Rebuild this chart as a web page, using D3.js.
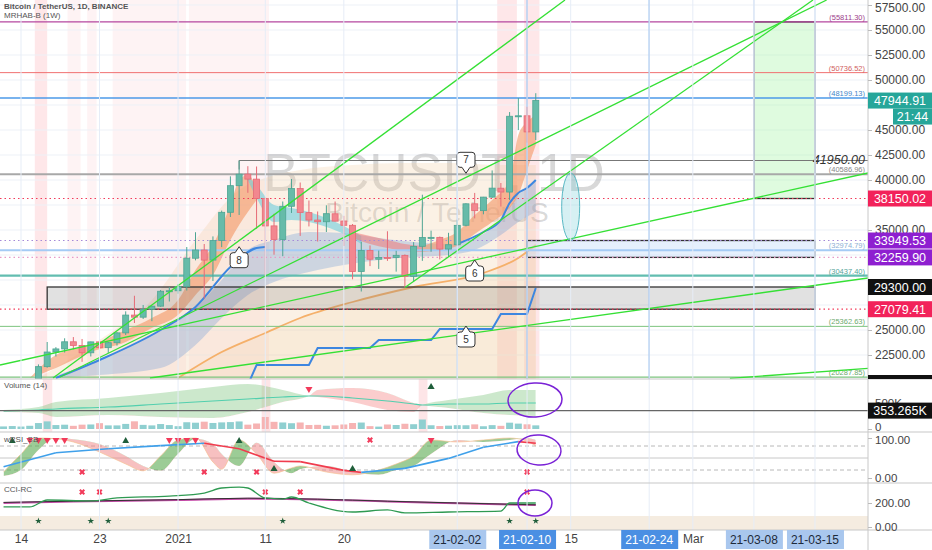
<!DOCTYPE html>
<html><head><meta charset="utf-8">
<script src="https://cdn.jsdelivr.net/npm/d3@7/dist/d3.min.js"></script>
<style>
html,body{margin:0;padding:0;background:#fff;}
svg{display:block;font-family:"Liberation Sans",Arial,sans-serif;}
</style></head><body>
<svg id="chart" width="932" height="550"></svg>
<script>
// ================= DATA =================
const candleDates = ["2020-12-12","2020-12-13","2020-12-14","2020-12-15","2020-12-16","2020-12-17","2020-12-18","2020-12-19","2020-12-20","2020-12-21","2020-12-22","2020-12-23","2020-12-24","2020-12-25","2020-12-26","2020-12-27","2020-12-28","2020-12-29","2020-12-30","2020-12-31",
"2021-01-01","2021-01-02","2021-01-03","2021-01-04","2021-01-05","2021-01-06","2021-01-07","2021-01-08","2021-01-09","2021-01-10","2021-01-11","2021-01-12","2021-01-13","2021-01-14","2021-01-15","2021-01-16","2021-01-17","2021-01-18","2021-01-19","2021-01-20","2021-01-21","2021-01-22","2021-01-23","2021-01-24","2021-01-25","2021-01-26","2021-01-27","2021-01-28","2021-01-29","2021-01-30","2021-01-31",
"2021-02-01","2021-02-02","2021-02-03","2021-02-04","2021-02-05","2021-02-06","2021-02-07","2021-02-08","2021-02-09","2021-02-10","2021-02-11"];
const opens = [18036.53,18808.69,19174.99,19273.69,19426.43,21335.52,22797.15,23107.39,23821.60,23455.54,22719.88,23810.79,23232.39,23728.99,24712.47,26493.40,26281.54,27079.42,27385.00,28875.55,
28923.63,29331.70,32176.45,33000.05,31989.75,33949.53,36769.36,39432.48,40586.96,40088.22,38150.02,35410.37,34049.15,37371.38,39145.21,36737.43,35994.98,35824.99,36622.46,35901.94,35468.22,30851.99,32950.00,32078.00,32259.45,32254.19,32464.01,30366.15,33368.18,34246.28,34262.89,
33092.97,33517.09,35472.71,37620.26,36936.65,38289.32,39181.01,38795.69,46374.86,46420.42,44807.58];
const highs = [18948.66,19411.00,19349.00,19570.00,21560.00,23800.00,23285.18,24171.47,24295.00,24102.77,23837.10,24100.00,23794.43,24789.86,26867.03,28422.00,27500.00,27410.00,28996.00,29300.00,
29600.00,33300.00,34778.11,33600.00,34360.00,36939.21,40365.00,41950.00,41380.00,41350.00,38264.74,36628.00,37850.00,40100.00,39747.76,37950.00,36852.50,37469.83,37850.00,36415.31,35600.00,33826.53,33456.00,32944.00,34875.00,32921.88,32557.29,33783.98,38531.90,34933.00,34342.69,
34717.27,35984.33,37662.63,38708.27,38310.12,40955.51,39700.00,46794.45,48200.00,47310.00,48678.90];
const lows = [18020.70,18711.12,19000.00,19050.00,19278.60,21230.00,22350.00,22750.00,23060.00,21815.00,22353.40,22600.00,22703.42,23433.60,24500.00,25700.00,26101.00,25880.00,27320.00,27850.00,
28624.57,28946.53,31962.99,28130.00,29900.00,33288.00,36300.00,36500.00,38720.00,35111.11,30420.00,32531.00,32380.00,36701.23,34408.00,35357.80,33850.00,34800.00,35844.06,33400.00,30071.00,28850.00,31390.16,31106.00,31910.00,30837.37,29241.72,29842.10,31915.40,32825.00,32057.75,
32296.16,33418.00,35362.38,36161.95,36570.00,38215.94,37351.00,37988.89,45000.00,43727.00,43994.02];
const closes = [18808.69,19174.99,19273.14,19426.43,21335.52,22797.16,23107.39,23821.61,23455.52,22719.71,23810.79,23232.76,23729.20,24712.47,26493.39,26281.66,27079.41,27385.00,28875.54,28923.63,
29331.69,32178.33,33000.05,31988.71,33949.53,36769.36,39432.28,40582.81,40088.22,38150.02,35404.47,34051.24,37371.38,39144.50,36742.22,35994.98,35828.61,36631.27,35891.49,35468.23,30850.13,32945.17,32078.00,32259.90,32254.20,32467.77,30366.15,33364.86,34252.20,34262.88,33092.98,
33526.37,35466.24,37618.87,36936.66,38290.24,39186.94,38795.69,46374.87,46420.42,44807.58,47944.91];
const volumes = [49519,56560,47257,61792,114306,146538,75806,82549,61212,83359,87219,112335,69451,69216,97806,147830,79272,69411,95356,75508,
54134,129993,120957,140899,116049,127139,132825,145280,83378,105906,231133,138300,125600,111120,125126,76430,80108,62650,70689,86698,114876,124210,54696,45985,86758,76711,101007,92082,182437,72053,57003,
64817,73473,71801,89036,52950,74155,61234,121568,103653,90033,70000];

const priceTicks = [22500,25000,27500,30000,32500,35000,37500,40000,42500,45000,47500,50000,52500,55000,57500];
const tickDates = ["2020-12-14","2020-12-23","2021-01-01","2021-01-11","2021-01-20","2021-02-15","2021-03-01"];
const tickLabels = ["14","23","2021","11","20","15","Mar"];
const markDates = ["2021-02-02","2021-02-10","2021-02-24","2021-03-08","2021-03-15"];
const markLabels = ["21-02-02","21-02-10","21-02-24","21-03-08","21-03-15"];

// horizontal price levels
const solidLevels = [55811.30,50736.52,48199.13,40586.96,32974.79,30437.40,25362.63,20287.85];
const dottedLevels = [38150.02,33949.53,32259.90,27079.41];
const ray41950 = {date:"2021-01-08", price:41950.00};
const lastPrice = 47944.91, lastTimer = "21:44";
const axisTagPrices = [38150.02,33949.53,32259.90,29300.00,27079.41];

// rectangles
const boxStart = ["2020-12-17","2021-02-10","2021-03-08"];
const boxEnd   = ["2021-03-15","2021-03-15","2021-03-15"];
const boxTop   = [29300.00,33949.53,55811.30];
const boxBot   = [27079.41,32259.90,38150.02];
// ellipse
const ellipseDate = "2021-02-15", ellipseTop = 40700, ellipseBot = 33950;

// trend lines
const trendStartDates = ["2020-12-17T16:00Z","2020-12-18T11:16Z","2021-01-27T00:00Z","2020-12-28T18:45Z","2020-12-11T14:14Z","2021-03-05T06:00Z"];
const trendStartPrices = [20200,20300,29241.72,20200,21500,20170];
const trendEndDates = ["2021-02-14T08:24Z","2021-03-16T08:10Z","2021-03-14T18:30Z","2021-03-21T02:00Z","2021-03-21T02:00Z","2021-03-21T07:00Z"];
const trendEndPrices = [58000,58000,58000,30200,40700,21170];

// callouts
const calloutDates = ["2021-01-08","2021-02-03","2021-02-04","2021-02-03"];
const calloutPrices = [33330,40670,32000,25400];
const calloutLabels = ["8","7","6","5"];

// MRHAB bands (date, upper, lower)
const bull1Dates = ["2020-12-15","2020-12-18","2020-12-22","2020-12-26","2020-12-29","2021-01-01","2021-01-03","2021-01-05","2021-01-07","2021-01-08","2021-01-09","2021-01-10"];
const bull1Up = [20200,22500,23500,25000,26200,28000,31000,33500,37500,40000,40500,39200];
const bull1Lo = [20200,21200,22800,23800,25200,26500,28500,30500,34000,35500,36800,38000];
const bearDates = ["2021-01-09","2021-01-10","2021-01-12","2021-01-14","2021-01-16","2021-01-18","2021-01-20","2021-01-22"];
const bearUp = [40400,39500,37500,37200,36800,36200,35400,34400];
const bearLo = [40000,38200,35800,36000,35800,35300,34600,33600];
const redDates = ["2021-01-21","2021-01-23","2021-01-25","2021-01-27","2021-01-29"];
const redUp = [34800,34400,34000,33600,33400];
const redLo = [34200,33600,33200,32900,32800];
const bull2Dates = ["2021-01-29","2021-01-31","2021-02-02","2021-02-04","2021-02-06","2021-02-08","2021-02-09","2021-02-10","2021-02-11"];
const bull2Up = [33400,34000,34800,36500,38000,40000,44500,45800,46500];
const bull2Lo = [32800,33000,33400,34600,35800,37200,38500,41000,43500];
// big beige cloud (top edge)
const cloudDates = ["2020-12-16","2020-12-23","2020-12-29","2021-01-03","2021-01-08","2021-01-11","2021-01-15","2021-01-21","2021-01-27","2021-02-01","2021-02-07","2021-02-11"];
const cloudTop = [20200,24000,28000,34000,39000,40200,41000,41500,41700,41700,41500,41500];
// blue-grey band
const blueBandDates = ["2020-12-17","2020-12-23","2020-12-30","2021-01-03","2021-01-06","2021-01-09","2021-01-12","2021-01-16","2021-01-20","2021-01-24","2021-01-28","2021-02-01","2021-02-04","2021-02-07","2021-02-09","2021-02-11"];
const blueBandUp = [20200,22000,25000,27200,30000,33000,34000,34800,34700,34200,33800,33600,34200,36000,38500,40000];
const blueBandLo = [20200,20500,21200,23500,26200,28500,29800,30800,31500,32000,32300,32500,33000,34500,35800,36800];
// blue MA line (two visible parts)
const blue1Dates = ["2020-12-18","2020-12-23","2020-12-30","2021-01-03","2021-01-07","2021-01-10","2021-01-11"];
const blue1Vals = [20200,22000,25000,27300,31300,33200,33300];
const blue2Dates = ["2021-02-02","2021-02-05","2021-02-07","2021-02-08","2021-02-09","2021-02-10","2021-02-11"];
const blue2Vals = [33600,34800,36000,37700,38700,39200,40000];
// orange MA line
const orangeDates = ["2021-01-01","2021-01-06","2021-01-11","2021-01-15","2021-01-21","2021-01-28","2021-02-05","2021-02-09","2021-02-11"];
const orangeVals = [20200,22800,24700,26200,27800,29300,30700,32200,33500];
// weekly step line
const stepDates = ["2021-01-09","2021-01-10","2021-01-16","2021-01-17","2021-01-23","2021-01-24","2021-01-30","2021-01-31","2021-02-06","2021-02-07","2021-02-10","2021-02-11"];
const stepVals = [19500,21500,21500,23200,23200,24000,24000,25100,25100,26600,26600,29200];
// background highlight columns
const pinkStarts = ["2020-12-15T14:00Z","2020-12-19T08:00Z","2020-12-21T14:00Z","2020-12-24T12:00Z","2021-01-02T06:00Z","2021-02-06T14:00Z","2021-02-09T16:00Z"];
const pinkEnds   = ["2020-12-17T00:00Z","2020-12-20T20:00Z","2020-12-22T16:00Z","2021-01-01T22:00Z","2021-01-11T10:00Z","2021-02-08T20:00Z","2021-02-11T10:00Z"];
const volPinkStarts = ["2020-12-16T12:00Z","2021-01-10T14:00Z","2021-01-28T14:00Z"];
const volPinkEnds   = ["2020-12-17T14:00Z","2021-01-11T14:00Z","2021-01-29T14:00Z"];

// Volume oscillator cloud (lines A and B) and mid line
const voscDates = ["2020-12-12","2020-12-16","2020-12-18","2020-12-24","2020-12-30","2021-01-05","2021-01-09","2021-01-13","2021-01-16","2021-01-17","2021-01-21","2021-01-25","2021-01-28","2021-01-29","2021-02-01","2021-02-05","2021-02-08","2021-02-11"];
const voscA = [40,46,56,64,74,86,92,80,68,66,56,40,36,50,60,70,80,80];
const voscB = [36,34,26,30,26,24,36,56,68,80,84,74,54,50,44,34,30,28];
const voscMid = [38,40,42,46,52,58,62,66,68,68,64,58,52,50,52,52,54,54];
const volLast = 353265;

// wRSI
const rsiDates = ["2020-12-12","2020-12-18","2020-12-24","2020-12-30","2021-01-04","2021-01-08","2021-01-12","2021-01-15","2021-01-20","2021-01-22","2021-01-27","2021-02-01","2021-02-05","2021-02-09","2021-02-11"];
const rsiSlow = [28,63,73,81,87,73,42,41,19,14,24,49,77,91,87];
const ribDates = ["2020-12-12","2020-12-14","2020-12-16","2020-12-18","2020-12-20","2020-12-23","2020-12-26","2020-12-28","2020-12-30","2021-01-01","2021-01-03","2021-01-05","2021-01-06","2021-01-08","2021-01-10","2021-01-12","2021-01-14","2021-01-15","2021-01-18","2021-01-21","2021-01-24","2021-01-26","2021-01-28","2021-01-30","2021-02-02","2021-02-05","2021-02-08","2021-02-10","2021-02-11"];
const ribA = [15,60,100,98,90,65,35,18,55,95,100,40,22,95,60,12,25,30,15,8,20,35,55,95,90,95,100,92,80];
const ribB = [5,20,70,100,97,85,55,30,18,60,98,85,60,30,88,40,12,22,30,15,8,20,30,60,95,90,95,100,95];
const rsiTopTriDates = ["2020-12-15","2020-12-16","2020-12-17","2020-12-18","2020-12-19","2020-12-31","2021-01-01","2021-01-02","2021-01-03","2021-01-30"];
const rsiTopStarDates = ["2020-12-13","2020-12-26","2021-01-08"];
const rsiTopDotDates = ["2021-01-23"];
const rsiBotDotDates = ["2020-12-21","2021-01-04","2021-01-10","2021-02-10"];
const rsiBotTriDates = ["2021-01-12","2021-01-21"];

// CCI
const cciDates = ["2020-12-12","2020-12-15","2020-12-17","2020-12-22","2020-12-25","2020-12-31","2021-01-04","2021-01-06","2021-01-08","2021-01-09","2021-01-11","2021-01-13","2021-01-14","2021-01-16","2021-01-21","2021-01-25","2021-01-27","2021-02-01","2021-02-07","2021-02-08","2021-02-11"];
const cciFast = [167,167,225,217,242,258,283,325,333,325,242,233,250,200,125,142,117,125,133,200,200];
const cciSlowDates = ["2020-12-12","2020-12-20","2021-01-01","2021-01-09","2021-01-17","2021-01-25","2021-02-02","2021-02-11"];
const cciSlow = [205,215,228,240,232,215,200,185];
const cciSig = [200,212,225,236,230,212,198,183];
const cciTopDotDates = ["2020-12-21","2020-12-23","2021-01-11","2021-01-15","2021-02-10"];
const cciBotStarDates = ["2020-12-16","2020-12-22","2020-12-24","2021-01-13","2021-02-08","2021-02-11"];

// volume markers
const volDownTriDates = ["2021-01-16"];
const volUpTriDates = ["2021-01-30"];

// ================= CHART =================
const P = s => new Date(s.length > 10 ? s : s + "T00:00:00Z");
const PR = 868;               // right edge of plot area
const MS = 864e5, T0 = Date.UTC(2020,11,14), PXD = 8.725;
const x = d3.scaleUtc().domain([new Date(T0 - 21/PXD*MS), new Date(T0 + (PR-21)/PXD*MS)]).range([0, PR]);
const y = d3.scaleLinear().domain([20200, 58000]).range([378, 0]);
const yVol = d3.scaleLinear().domain([0, 500000]).range([429, 403]);
const yOsc = d3.scaleLinear().domain([0, 100]).range([430, 380]);
const yR = d3.scaleLinear().domain([0, 100]).range([478, 438]);
const yC = d3.scaleLinear().domain([0, 200]).range([527, 503]);

const svg = d3.select("#chart");
const defs = svg.append("defs");
function clip(id, x0, y0, w, h){ defs.append("clipPath").attr("id", id).append("rect").attr("x",x0).attr("y",y0).attr("width",w).attr("height",h); }
clip("cMain",0,0,PR,379); clip("cVol",0,379,PR,53); clip("cRsi",0,433,PR,50); clip("cCci",0,484,PR,46);

const main = svg.append("g").attr("clip-path","url(#cMain)");
const vol = svg.append("g").attr("clip-path","url(#cVol)");
const rsi = svg.append("g").attr("clip-path","url(#cRsi)");
const cci = svg.append("g").attr("clip-path","url(#cCci)");

// pink highlight columns
pinkStarts.forEach((s,i)=>{
  main.append("rect").attr("x",x(P(s))).attr("y",0).attr("width",x(P(pinkEnds[i]))-x(P(s))).attr("height",379)
   .attr("fill", i===0||i>=5 ? "rgba(250,170,175,0.28)" : "rgba(250,190,195,0.18)");
});
volPinkStarts.forEach((s,i)=>{
  vol.append("rect").attr("x",x(P(s))).attr("y",379).attr("width",x(P(volPinkEnds[i]))-x(P(s))).attr("height",53).attr("fill","rgba(250,170,175,0.3)");
});

// grid
const gridCol = "#edf1f7";
priceTicks.forEach(p=> main.append("line").attr("x1",0).attr("x2",PR).attr("y1",y(p)).attr("y2",y(p)).attr("stroke",gridCol));
tickDates.concat(markDates).forEach(d=>{
  svg.append("line").attr("x1",x(P(d))).attr("x2",x(P(d))).attr("y1",0).attr("y2",530).attr("stroke","#e6edf7");
});

// watermark
main.append("text").attr("x",434).attr("y",191).attr("text-anchor","middle").attr("font-size",53).attr("fill","rgba(90,90,90,0.24)").text("BTCUSDT, 1D");
main.append("text").attr("x",437).attr("y",222).attr("text-anchor","middle").attr("font-size",28).attr("fill","rgba(90,90,90,0.24)").text("Bitcoin / TetherUS");

// beige cloud
main.append("path").datum(cloudDates.map((d,i)=>[P(d),cloudTop[i]]))
  .attr("d", d3.area().x(d=>x(d[0])).y0(379).y1(d=>y(d[1])).curve(d3.curveMonotoneX))
  .attr("fill","rgba(240,205,160,0.28)");
main.append("path").datum(orangeDates.map((d,i)=>[P(d),orangeVals[i]]))
  .attr("d", d3.area().x(d=>x(d[0])).y0(379).y1(d=>y(d[1])).curve(d3.curveMonotoneX))
  .attr("fill","rgba(240,200,150,0.15)");
// blue band
main.append("path").datum(blueBandDates.map((d,i)=>[P(d),blueBandUp[i],blueBandLo[i]]))
  .attr("d", d3.area().x(d=>x(d[0])).y0(d=>y(d[2])).y1(d=>y(d[1])).curve(d3.curveMonotoneX))
  .attr("fill","rgba(120,160,215,0.35)");
// ribbons
function band(dates, up, lo, col){
  main.append("path").datum(dates.map((d,i)=>[P(d),up[i],lo[i]]))
   .attr("d", d3.area().x(d=>x(d[0])).y0(d=>y(d[2])).y1(d=>y(d[1])).curve(d3.curveMonotoneX)).attr("fill",col);
}
band(bull1Dates,bull1Up,bull1Lo,"rgba(243,150,100,0.6)");
band(bearDates,bearUp,bearLo,"rgba(110,205,220,0.6)");
band(redDates,redUp,redLo,"rgba(240,120,120,0.55)");
band(bull2Dates,bull2Up,bull2Lo,"rgba(243,150,100,0.6)");

// orange line
main.append("path").datum(orangeDates.map((d,i)=>[P(d),orangeVals[i]]))
  .attr("d", d3.line().x(d=>x(d[0])).y(d=>y(d[1])).curve(d3.curveMonotoneX))
  .attr("fill","none").attr("stroke","#f5b06a").attr("stroke-width",1.8);

// boxes
const boxFill = ["rgba(120,120,120,0.22)","rgba(200,222,250,0.45)","rgba(170,245,170,0.38)"];
boxStart.forEach((s,i)=>{
  main.append("rect").attr("x",x(P(s))).attr("y",y(boxTop[i])).attr("width",x(P(boxEnd[i]))-x(P(s))).attr("height",y(boxBot[i])-y(boxTop[i]))
   .attr("fill",boxFill[i]).attr("stroke","#333").attr("stroke-width",1.3);
});

// horizontal levels
const solidCol = ["#b5479f","#f07070","#4d9ae8","#a8a8a8","#a4cbf5","#62bdb0","#7cc47f","#7cc47f"];
const solidW = [1.3,1,1.3,2,2.2,2.2,1,1.2];
solidLevels.forEach((p,i)=>{
  main.append("line").attr("x1",0).attr("x2",PR).attr("y1",y(p)).attr("y2",y(p)).attr("stroke",solidCol[i]).attr("stroke-width",solidW[i]);
  main.append("text").attr("x",PR-3).attr("y",y(p)-2).attr("text-anchor","end").attr("font-size",7.5).attr("fill",solidCol[i]==="#a8a8a8"?"#888":d3.color(solidCol[i]).darker(0.4)).text("("+p.toFixed(2)+")");
});
const dotCol = ["#f23a5a","#a58ad8","#e79ac8","#f23a5a"];
dottedLevels.forEach((p,i)=>{
  main.append("line").attr("x1",0).attr("x2",PR).attr("y1",y(p)).attr("y2",y(p)).attr("stroke",dotCol[i]).attr("stroke-width",1.2).attr("stroke-dasharray","1.5,3");
});
// 41950 ray
main.append("line").attr("x1",x(P(ray41950.date))).attr("x2",PR).attr("y1",y(ray41950.price)).attr("y2",y(ray41950.price)).attr("stroke","#777").attr("stroke-width",1);
main.append("line").attr("x1",x(P(ray41950.date))).attr("x2",x(P(ray41950.date))).attr("y1",y(ray41950.price)).attr("y2",y(ray41950.price)+9).attr("stroke","#777").attr("stroke-width",1);
main.append("text").attr("x",PR-3).attr("y",y(ray41950.price)+3).attr("text-anchor","end").attr("font-size",12.5).attr("font-style","italic").attr("fill","#333").text(ray41950.price.toFixed(2));

// vertical drawing lines
[["2021-02-02","#a9c8f0"],["2021-02-10","#6ea6ea"],["2021-02-24","#6ea6ea"],["2021-03-08","#c5d8f2"],["2021-03-15","#c5d8f2"]].forEach(v=>{
  main.append("line").attr("x1",x(P(v[0]))).attr("x2",x(P(v[0]))).attr("y1",0).attr("y2",379).attr("stroke",v[1]).attr("stroke-width",1.2);
});

// blue step line
main.append("path").datum(stepDates.map((d,i)=>[P(d),stepVals[i]]))
  .attr("d", d3.line().x(d=>x(d[0])).y(d=>y(d[1]))).attr("fill","none").attr("stroke","#3d86e0").attr("stroke-width",2);
[[blue1Dates,blue1Vals],[blue2Dates,blue2Vals]].forEach(b=>{
  main.append("path").datum(b[0].map((d,i)=>[P(d),b[1][i]]))
   .attr("d", d3.line().x(d=>x(d[0])).y(d=>y(d[1])).curve(d3.curveMonotoneX)).attr("fill","none").attr("stroke","#3d86e0").attr("stroke-width",2);
});

// candles
const cw = 6;
candleDates.forEach((d,i)=>{
  const up = closes[i] >= opens[i];
  const fill = up ? "#66bba9" : "#f2878f", edge = up ? "#4ea593" : "#e66a76";
  const cx = x(P(d));
  main.append("line").attr("x1",cx).attr("x2",cx).attr("y1",y(highs[i])).attr("y2",y(lows[i])).attr("stroke",edge).attr("stroke-width",1);
  const top = y(Math.max(opens[i],closes[i])), bot = y(Math.min(opens[i],closes[i]));
  main.append("rect").attr("x",cx-cw/2).attr("y",top).attr("width",cw).attr("height",Math.max(1,bot-top)).attr("fill",fill).attr("stroke",edge).attr("stroke-width",0.8);
});

// trend lines
trendStartDates.forEach((s,i)=>{
  main.append("line").attr("x1",x(new Date(s))).attr("y1",y(trendStartPrices[i])).attr("x2",x(new Date(trendEndDates[i]))).attr("y2",y(trendEndPrices[i]))
   .attr("stroke","#35e035").attr("stroke-width",1.3);
});

// ellipse
main.append("ellipse").attr("cx",x(P(ellipseDate))).attr("cy",(y(ellipseTop)+y(ellipseBot))/2).attr("rx",9).attr("ry",(y(ellipseBot)-y(ellipseTop))/2)
  .attr("fill","rgba(120,205,215,0.3)").attr("stroke","#58b8c4").attr("stroke-width",1);

// callouts
function callout(tx, ty, dir, label){
  const w=18,h=15,r=3,pw=4,ph=6;
  const x0=tx-w/2, y0 = dir==="up" ? ty+ph : ty-ph-h;
  const p = d3.path();
  p.moveTo(x0+r,y0);
  if(dir==="up"){ p.lineTo(tx-pw,y0); p.lineTo(tx,ty); p.lineTo(tx+pw,y0); }
  p.lineTo(x0+w-r,y0); p.arcTo(x0+w,y0,x0+w,y0+r,r); p.lineTo(x0+w,y0+h-r); p.arcTo(x0+w,y0+h,x0+w-r,y0+h,r);
  if(dir==="down"){ p.lineTo(tx+pw,y0+h); p.lineTo(tx,ty); p.lineTo(tx-pw,y0+h); }
  p.lineTo(x0+r,y0+h); p.arcTo(x0,y0+h,x0,y0+h-r,r); p.lineTo(x0,y0+r); p.arcTo(x0,y0,x0+r,y0,r); p.closePath();
  main.append("path").attr("d",p.toString()).attr("fill","#fff").attr("stroke","#333").attr("stroke-width",1);
  main.append("text").attr("x",tx).attr("y",y0+h/2+3.5).attr("text-anchor","middle").attr("font-size",10).attr("fill","#333").text(label);
}
const calloutDir = ["up","down","up","up"];
calloutDates.forEach((d,i)=> callout(x(P(d)), y(calloutPrices[i]), calloutDir[i], calloutLabels[i]));

// header
svg.append("text").attr("x",4).attr("y",9).attr("font-size",8).attr("font-weight","bold").attr("fill","#555").text("Bitcoin / TetherUS, 1D, BINANCE");
svg.append("text").attr("x",4).attr("y",18).attr("font-size",8).attr("fill","#555").text("MRHAB-B (1W)");

// ================= VOLUME PANE =================
function diffFill(g, dates, A, B, ys, top, bot, cUp, cDn, id){
  const pts = dates.map((d,i)=>[x(P(d)), ys(A[i]), ys(B[i])]);
  defs.append("clipPath").attr("id",id+"a").append("path").attr("d", d3.area().x(d=>d[0]).y0(top).y1(d=>d[2]).curve(d3.curveMonotoneX)(pts));
  defs.append("clipPath").attr("id",id+"b").append("path").attr("d", d3.area().x(d=>d[0]).y0(bot).y1(d=>d[2]).curve(d3.curveMonotoneX)(pts));
  const ar = d3.area().x(d=>d[0]).y0(d=>d[2]).y1(d=>d[1]).curve(d3.curveMonotoneX)(pts);
  g.append("g").attr("clip-path",`url(#${id}a)`).append("path").attr("d",ar).attr("fill",cUp);
  g.append("g").attr("clip-path",`url(#${id}b)`).append("path").attr("d",ar).attr("fill",cDn);
}
diffFill(vol, voscDates, voscA, voscB, yOsc, 379, 432, "rgba(120,195,120,0.38)", "rgba(245,130,130,0.4)", "vo");
vol.append("path").datum(voscDates.map((d,i)=>[P(d),voscMid[i]]))
  .attr("d", d3.line().x(d=>x(d[0])).y(d=>yOsc(d[1])).curve(d3.curveMonotoneX)).attr("fill","none").attr("stroke","#52cfae").attr("stroke-width",1.2);
svg.append("line").attr("x1",0).attr("x2",PR).attr("y1",yVol(volLast)).attr("y2",yVol(volLast)).attr("stroke","#666").attr("stroke-width",1.2);
candleDates.forEach((d,i)=>{
  const up = closes[i] >= opens[i];
  vol.append("rect").attr("x",x(P(d))-3.5).attr("y",yVol(volumes[i])).attr("width",7).attr("height",yVol(0)-yVol(volumes[i]))
    .attr("fill", up ? "#8fcfd0" : "#f6b3b3");
});
const sym = (type,size)=>d3.symbol().type(type).size(size)();
volDownTriDates.forEach(d=> vol.append("path").attr("d",sym(d3.symbolTriangle,22)).attr("transform",`translate(${x(P(d))},389) rotate(180)`).attr("fill","#f23a5a"));
volUpTriDates.forEach(d=> vol.append("path").attr("d",sym(d3.symbolTriangle,22)).attr("transform",`translate(${x(P(d))},387)`).attr("fill","#1f5e3a"));
svg.append("text").attr("x",4).attr("y",388).attr("font-size",8).attr("fill","#555").text("Volume (14)");

// ================= wRSI PANE =================
[[80,"4,3"],[20,"4,3"]].forEach(l=> rsi.append("line").attr("x1",0).attr("x2",PR).attr("y1",yR(l[0])).attr("y2",yR(l[0])).attr("stroke","#b8b8b8").attr("stroke-dasharray",l[1]));
rsi.append("line").attr("x1",0).attr("x2",PR).attr("y1",yR(50)).attr("y2",yR(50)).attr("stroke","#c8c8c8");
diffFill(rsi, ribDates, ribA, ribB, yR, 433, 483, "rgba(90,170,80,0.6)", "rgba(240,130,130,0.5)", "rr");
rsi.append("path").datum(ribDates.map((d,i)=>[P(d),ribA[i]]))
  .attr("d", d3.line().x(d=>x(d[0])).y(d=>yR(d[1])).curve(d3.curveMonotoneX)).attr("fill","none").attr("stroke","rgba(245,190,140,0.8)").attr("stroke-width",0.8);
for(let i=0;i<rsiDates.length-1;i++){
  rsi.append("line").attr("x1",x(P(rsiDates[i]))).attr("y1",yR(rsiSlow[i])).attr("x2",x(P(rsiDates[i+1]))).attr("y2",yR(rsiSlow[i+1]))
   .attr("stroke", rsiSlow[i+1] >= rsiSlow[i] ? "#3fa0ea" : "#f03c4e").attr("stroke-width",1.6);
}
rsiTopTriDates.forEach(d=> rsi.append("path").attr("d",sym(d3.symbolTriangle,20)).attr("transform",`translate(${x(P(d))},440) rotate(180)`).attr("fill","#f23a5a"));
rsiTopStarDates.forEach(d=> rsi.append("path").attr("d",sym(d3.symbolTriangle,20)).attr("transform",`translate(${x(P(d))},441)`).attr("fill","#1f5e3a"));
rsiTopDotDates.forEach(d=> rsi.append("path").attr("d",sym(d3.symbolCross,22)).attr("transform",`translate(${x(P(d))},440) rotate(45)`).attr("fill","#f23a5a"));
rsiBotDotDates.forEach(d=> rsi.append("path").attr("d",sym(d3.symbolCross,22)).attr("transform",`translate(${x(P(d))},472) rotate(45)`).attr("fill","#f23a5a"));
rsiBotTriDates.forEach(d=> rsi.append("path").attr("d",sym(d3.symbolTriangle,22)).attr("transform",`translate(${x(P(d))},469)`).attr("fill","#1f5e3a"));
svg.append("text").attr("x",4).attr("y",442).attr("font-size",8).attr("fill","#555").text("wRSI_SB");

// ================= CCI PANE =================
cci.append("rect").attr("x",0).attr("y",516).attr("width",PR).attr("height",14).attr("fill","rgba(225,200,165,0.35)");
cci.append("path").datum(cciSlowDates.map((d,i)=>[P(d),cciSig[i]]))
  .attr("d", d3.line().x(d=>x(d[0])).y(d=>yC(d[1])).curve(d3.curveMonotoneX)).attr("fill","none").attr("stroke","#c54aa8").attr("stroke-width",2);
cci.append("path").datum(cciSlowDates.map((d,i)=>[P(d),cciSlow[i]]))
  .attr("d", d3.line().x(d=>x(d[0])).y(d=>yC(d[1])).curve(d3.curveMonotoneX)).attr("fill","none").attr("stroke","#333").attr("stroke-width",1);
cci.append("path").datum(cciDates.map((d,i)=>[P(d),cciFast[i]]))
  .attr("d", d3.line().x(d=>x(d[0])).y(d=>yC(d[1])).curve(d3.curveMonotoneX)).attr("fill","none").attr("stroke","#2f9a52").attr("stroke-width",1.3);
cciTopDotDates.forEach(d=> cci.append("path").attr("d",sym(d3.symbolCross,22)).attr("transform",`translate(${x(P(d))},492) rotate(45)`).attr("fill","#f23a5a"));
cciBotStarDates.forEach(d=> cci.append("path").attr("d",sym(d3.symbolStar,14)).attr("transform",`translate(${x(P(d))},521)`).attr("fill","#1f5e3a"));
svg.append("text").attr("x",4).attr("y",492).attr("font-size",8).attr("fill","#555").text("CCI-RC");

// purple freehand circles
[[535,400,27,17,-3],[539,450,22,15,4],[535,503,17,13,0]].forEach(c=>{
  svg.append("ellipse").attr("cx",c[0]).attr("cy",c[1]).attr("rx",c[2]).attr("ry",c[3]).attr("transform",`rotate(${c[4]},${c[0]},${c[1]})`)
   .attr("fill","none").attr("stroke","#7a22d6").attr("stroke-width",1.5);
});

// pane separators
[379,432,483,530].forEach(v=> svg.append("line").attr("x1",0).attr("x2",932).attr("y1",v).attr("y2",v).attr("stroke","#c8c8c8").attr("stroke-width",1.2));
svg.append("line").attr("x1",PR).attr("x2",PR).attr("y1",0).attr("y2",550).attr("stroke","#c8c8c8");

// ================= AXES =================
const tagYs = axisTagPrices.map(y).concat([y(lastPrice), y(lastPrice)+16]);
const visibleTicks = priceTicks.filter(p => tagYs.every(t => Math.abs(t - y(p)) >= 9));
const ax = svg.append("g").attr("transform",`translate(${PR},0)`)
  .call(d3.axisRight(y).tickValues(visibleTicks).tickFormat(d3.format(".2f")).tickSize(4));
ax.select(".domain").remove();
ax.selectAll("line").attr("stroke","#bbb");
ax.selectAll("text").attr("font-size",12).attr("fill","#444").attr("font-family","Liberation Sans, Arial")
  .attr("dy", d => y(d) < 7 ? "0.55em" : "0.32em");
function paneAxis(scale, vals, fmt, dys){
  const a = svg.append("g").attr("transform",`translate(${PR},0)`).call(d3.axisRight(scale).tickValues(vals).tickFormat(fmt).tickSize(4));
  a.select(".domain").remove(); a.selectAll("line").attr("stroke","#bbb");
  a.selectAll("text").attr("font-size",11.5).attr("fill","#444").attr("font-family","Liberation Sans, Arial")
   .attr("dy",(d,i)=>dys[i]);
}
paneAxis(yVol,[0,500000],v=> v===0 ? "0" : (v/1000)+"K",["0.1em","0.32em"]);
paneAxis(yR,[0,100],d3.format(".2f"),["0.32em","0.5em"]);
paneAxis(yC,[0,200],d3.format(".2f"),["0.32em","0.32em"]);

function tag(yy, text, bg, fg, x0=PR, w=64){
  svg.append("rect").attr("x",x0).attr("y",yy-8).attr("width",w).attr("height",16).attr("fill",bg);
  svg.append("text").attr("x",x0+w/2).attr("y",yy+4.5).attr("text-anchor","middle").attr("font-size",12.5).attr("fill",fg).text(text);
}
const tagBg = ["#f2225a","#8e1fd0","#8e1fd0","#111","#f2225a"];
axisTagPrices.forEach((p,i)=> tag(y(p), p.toFixed(2), tagBg[i], "#fff"));
tag(y(lastPrice), lastPrice.toFixed(2), "#26a69a", "#fff");
tag(y(lastPrice)+16, lastTimer, "#26a69a", "#fff", 893, 39);
tag(yVol(volLast), (volLast/1000).toFixed(3)+"K", "#111", "#fff");
svg.append("rect").attr("x",PR).attr("y",375).attr("width",64).attr("height",4).attr("fill","#111");

// x axis
const xa = svg.append("g").attr("transform","translate(0,530)")
  .call(d3.axisBottom(x).tickValues(tickDates.map(P)).tickFormat((d,i)=>tickLabels[i]).tickSize(0));
xa.select(".domain").remove();
xa.selectAll("text").attr("font-size",12).attr("fill","#444").attr("dy","0.85em").attr("font-family","Liberation Sans, Arial");
const markBg = ["#a9c7ee","#4a8fe3","#4a8fe3","#a9c7ee","#a9c7ee"];
const markFg = ["#1d2a3a","#fff","#fff","#1d2a3a","#1d2a3a"];
markDates.forEach((d,i)=>{
  const cx = x(P(d));
  svg.append("rect").attr("x",cx-28).attr("y",530).attr("width",57).attr("height",19).attr("fill",markBg[i]);
  svg.append("text").attr("x",cx).attr("y",544).attr("text-anchor","middle").attr("font-size",12).attr("fill",markFg[i]).text(markLabels[i]);
});
</script>
</body></html>
